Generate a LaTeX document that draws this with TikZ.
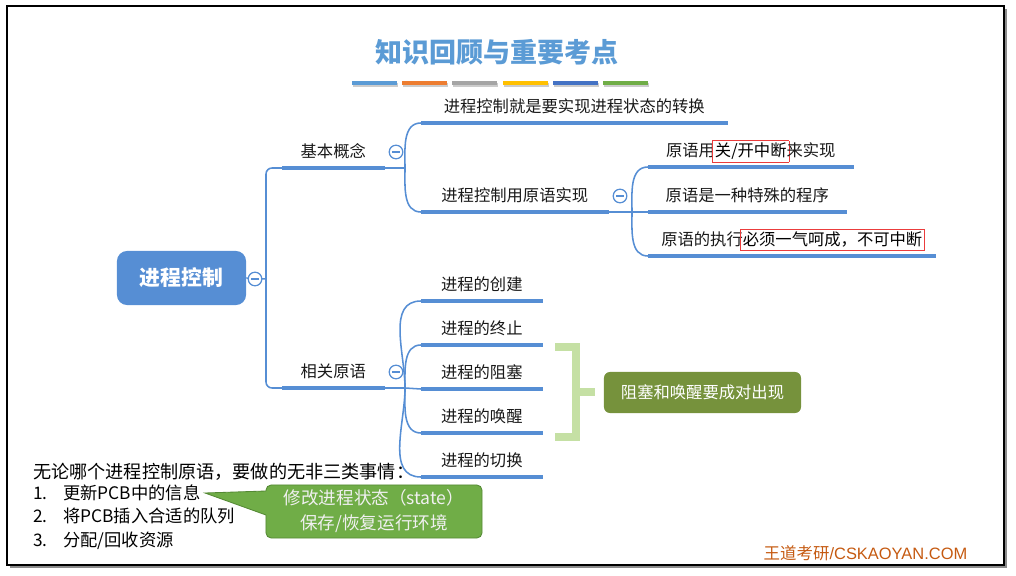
\documentclass[tikz,border=0pt]{standalone}
\usepackage{fontspec}
\setmainfont{Noto Sans CJK SC}
\newfontfamily\footfont{Liberation Sans}
\usepackage{tikz}
\usetikzlibrary{positioning}
\definecolor{mapblue}{RGB}{86,142,212}
\definecolor{titleblue}{RGB}{91,155,213}
\definecolor{barorange}{RGB}{237,125,49}
\definecolor{bargray}{RGB}{165,165,165}
\definecolor{baryellow}{RGB}{255,192,0}
\definecolor{bardblue}{RGB}{68,114,196}
\definecolor{bargreen}{RGB}{112,173,71}
\definecolor{pairgreen}{RGB}{118,146,60}
\definecolor{bracegreen}{RGB}{197,224,164}
\definecolor{calloutgreen}{RGB}{112,173,71}
\definecolor{calloutline}{RGB}{84,137,52}
\definecolor{markred}{RGB}{235,60,60}
\definecolor{footorange}{RGB}{197,90,17}
\newcommand\topicfont{\fontsize{11.6}{14}\selectfont}
\newcommand\redmark[1]{\kern-1.9pt{\setlength\fboxsep{1.5pt}\textcolor{markred}{\fbox{\textcolor{black}{#1}}}}\kern-1.9pt}

\begin{document}
\begin{tikzpicture}[
  x=0.025cm, y=-0.025cm,
  title/.style={font=\fontsize{19.2}{22}\selectfont\bfseries, text=titleblue, inner sep=0pt},
  root/.style={rounded corners=0.25cm, fill=mapblue, text=white, font=\fontsize{14.8}{17}\selectfont\bfseries, minimum width=3.225cm, minimum height=1.35cm},
  topic/.style={anchor=south west, inner xsep=0pt, inner ysep=0.25cm, text depth=0pt, minimum height=0pt, font=\topicfont, text=black!90},
  len/.style={minimum width=#1*0.025cm},
  ul/.style={mapblue, line width=2.8pt},
  branch/.style={mapblue, line width=1.1pt},
  fold/.style={circle, draw=mapblue, fill=white, line width=0.9pt, minimum size=0.34cm, inner sep=0pt,
    path picture={\draw[mapblue, line width=0.9pt] ([xshift=-0.09cm]path picture bounding box.center) -- ([xshift=0.09cm]path picture bounding box.center);}},
  pair/.style={rounded corners=0.15cm, fill=pairgreen, text=white, font=\topicfont, minimum width=4.925cm, minimum height=1.025cm},
  callout/.style={rounded corners=0.13cm, fill=calloutgreen, draw=calloutline, line width=0.6pt, text=white!94!black, align=center,
    font=\fontsize{12.5}{17.8}\selectfont, minimum width=5.4cm, minimum height=1.325cm, inner sep=0pt},
  note/.style={anchor=base west, inner sep=0pt},
  foot/.style={text=footorange, font=\fontsize{11.7}{14}\selectfont, inner sep=0pt}
]
\useasboundingbox (0,0) rectangle (1016,576);

% frame
\draw[black!45, line width=1.4pt] (1006,9) -- (1006,567) -- (10,567);
\draw[black, line width=1.4pt] (7,6) rectangle (1004,565);

\node[title] (tt) at (497,52) {知识回顾与重要考点};
\foreach \c [count=\i from 0] in {titleblue,barorange,bargray,baryellow,bardblue,bargreen}{
  \fill[black!20] (353+\i*50.2,83) rectangle ++(45,4);
  \fill[\c] (352+\i*50.2,81) rectangle ++(45,4);
}

\node[root] (rc) at (181.5,278) {进程控制};

\node[topic, len=102] (b1) at (282,168) {基本概念};
\node[topic, len=102] (b2) at (282,388) {相关原语};

\node[topic, len=306] (t1) at (421,123) {进程控制就是要实现进程状态的转换};
\node[topic, len=187] (t2) at (421,212) {进程控制用原语实现};

\node[topic, len=205] (p1) at (648,167) {原语用\redmark{关/开中断}来实现};
\node[topic, len=198] (p2) at (648,212) {原语是一种特殊的程序};
\node[topic, len=287] (p3) at (648,256) {原语的执行\redmark{必须一气呵成，不可中断}};

\node[topic, len=121] (c1) at (421,301) {进程的创建};
\node[topic, len=121] (c2) at (421,345) {进程的终止};
\node[topic, len=121] (c3) at (421,389) {进程的阻塞};
\node[topic, len=121] (c4) at (421,433) {进程的唤醒};
\node[topic, len=121] (c5) at (421,477) {进程的切换};

\foreach \n in {b1,b2,t1,t2,p1,p2,p3,c1,c2,c3,c4,c5}
  \draw[ul] (\n.south west) -- (\n.south east);

\coordinate (j0) at (266,279);
\coordinate (j1) at (405,168);
\coordinate (j2) at (632,212);
\coordinate (j3) at (405,388);

\draw[branch] (rc.east) -- (j0);
\draw[branch, rounded corners=0.15cm] (j0) |- (b1.south west);
\draw[branch, rounded corners=0.15cm] (j0) |- (b2.south west);

\draw[branch] (b1.south east) -- (j1);
\draw[branch] (j1) to[out=90,in=180] (t1.south west);
\draw[branch] (j1) to[out=-90,in=180] (t2.south west);

\draw[branch] (t2.south east) -- (j2);
\draw[branch] (j2) to[out=90,in=180] (p1.south west);
\draw[branch] (j2) -- (p2.south west);
\draw[branch] (j2) to[out=-90,in=180] (p3.south west);

\draw[branch] (b2.south east) -- (j3);
\draw[branch] (j3) to[out=90,in=180] (c1.south west);
\draw[branch] (j3) to[out=90,in=180] (c2.south west);
\draw[branch] (j3) -- (c3.south west);
\draw[branch] (j3) to[out=-90,in=180] (c4.south west);
\draw[branch] (j3) to[out=-90,in=180] (c5.south west);

\node[fold] (f0) at (255,279) {};
\node[fold] (f1) at (396,152) {};
\node[fold] (f2) at (620,196) {};
\node[fold] (f3) at (396,372) {};

% pair bracket
\node[pair] (pr) at (702.5,392.5) {阻塞和唤醒要成对出现};
\draw[bracegreen, line width=5pt] (555,347) -- (576,347) -- (576,437) -- (555,437);
\draw[bracegreen, line width=5pt] (576,392) -- (595,392);

% notes
\node[note, font=\fontsize{12.9}{15}\selectfont] (n0) at (33,478) {无论哪个进程控制原语，要做的无非三类事情：};
\node[note, font=\fontsize{12.3}{15}\selectfont] (n1) at (33,499) {\makebox[0.75cm][l]{1.}更新PCB中的信息};
\node[note, font=\fontsize{12.3}{15}\selectfont] (n2) at (33,522) {\makebox[0.75cm][l]{2.}将PCB插入合适的队列};
\node[note, font=\fontsize{12.3}{15}\selectfont] (n3) at (33,546) {\makebox[0.75cm][l]{3.}分配/回收资源};

\node[callout] (co) at (374,511.5) {修改进程状态（state）\\保存/恢复运行环境};
\coordinate (tip) at (205,493);
\fill[calloutgreen] (tip) -- (266,491) -- (270,491) -- (270,515) -- (266,515) -- cycle;
\draw[calloutline, line width=0.6pt] (266,491) -- (tip) -- (266,515);

\node[foot] (ft) at (865.5,553) {王道考研{\footfont /CSKAOYAN.COM}};
\end{tikzpicture}
\end{document}
